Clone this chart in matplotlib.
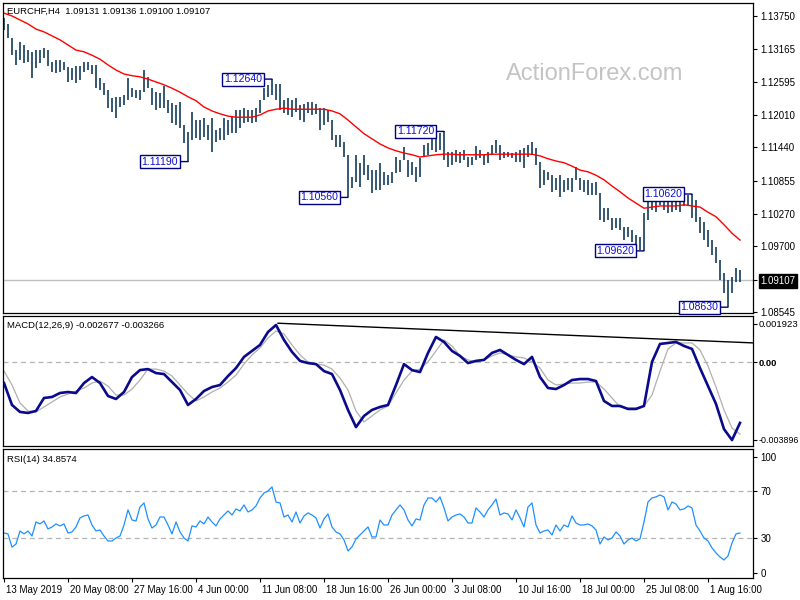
import numpy as np
import matplotlib
matplotlib.use("Agg")
import matplotlib.pyplot as plt
from matplotlib import transforms

plt.rcParams['font.family'] = ['Liberation Sans', 'DejaVu Sans']

# ---------------- data ----------------
# one entry per two H4 bars (EURCHF H4, 13 May 2019 -> 5 Aug 2019)
high = [1.1371, 1.1361, 1.1336, 1.1315, 1.1329, 1.1324, 1.1315, 1.1312, 1.1315, 1.1315,
        1.1319, 1.1315, 1.1294, 1.1298, 1.1298, 1.1294, 1.1285, 1.1284, 1.1287, 1.1287,
        1.1294, 1.1294, 1.1289, 1.1289, 1.1266, 1.1257, 1.1245, 1.1231, 1.1233, 1.1233,
        1.1236, 1.1266, 1.1248, 1.1245, 1.1245, 1.1280, 1.1268, 1.1248, 1.1241, 1.1240,
        1.1252, 1.1227, 1.1222, 1.1219, 1.1224, 1.1183, 1.1171, 1.1206, 1.1192, 1.1192,
        1.1196, 1.1183, 1.1196, 1.1175, 1.1178, 1.1196, 1.1192, 1.1197, 1.1210, 1.1210,
        1.1213, 1.1210, 1.1210, 1.1213, 1.1227, 1.1248, 1.1254, 1.1264, 1.1255, 1.1255,
        1.1227, 1.1231, 1.1227, 1.1231, 1.1219, 1.1220, 1.1224, 1.1224, 1.1220, 1.1213,
        1.1213, 1.1210, 1.1192, 1.1166, 1.1166, 1.1153, 1.1131, 1.1092, 1.1131, 1.1117,
        1.1131, 1.1113, 1.1104, 1.1104, 1.1117, 1.1101, 1.1095, 1.1101, 1.1127, 1.1122,
        1.1145, 1.1122, 1.1118, 1.1109, 1.1125, 1.1148, 1.1152, 1.1161, 1.1166, 1.1169,
        1.1172, 1.1136, 1.1136, 1.1139, 1.1136, 1.1139, 1.1127, 1.1127, 1.1146, 1.1139,
        1.1131, 1.1136, 1.1148, 1.1157, 1.1148, 1.1136, 1.1136, 1.1134, 1.1136, 1.1139,
        1.1143, 1.1148, 1.1153, 1.1143, 1.1118, 1.1104, 1.1101, 1.1095, 1.1090, 1.1095,
        1.1087, 1.1090, 1.1090, 1.1109, 1.1090, 1.1087, 1.1087, 1.1081, 1.1083, 1.1064,
        1.1037, 1.1037, 1.1020, 1.1020, 1.1020, 1.1004, 1.1004, 1.0999, 1.0990, 1.0986,
        1.1029, 1.1057, 1.1060, 1.1059, 1.1060, 1.1057, 1.1060, 1.1057, 1.1059, 1.1057,
        1.1060, 1.1060, 1.1062, 1.1052, 1.1022, 1.1013, 1.0999, 1.0981, 1.0969, 1.0946,
        1.0923, 1.0911, 1.0916, 1.0932, 1.0928]
low = [1.1350, 1.1336, 1.1306, 1.1289, 1.1298, 1.1292, 1.1294, 1.1266, 1.1284, 1.1292,
       1.1301, 1.1287, 1.1277, 1.1275, 1.1277, 1.1280, 1.1259, 1.1262, 1.1257, 1.1262,
       1.1277, 1.1280, 1.1273, 1.1248, 1.1245, 1.1236, 1.1213, 1.1206, 1.1196, 1.1215,
       1.1219, 1.1227, 1.1233, 1.1231, 1.1227, 1.1241, 1.1248, 1.1219, 1.1210, 1.1213,
       1.1213, 1.1204, 1.1187, 1.1183, 1.1178, 1.1152, 1.1119, 1.1157, 1.1161, 1.1157,
       1.1162, 1.1157, 1.1136, 1.1153, 1.1157, 1.1157, 1.1166, 1.1169, 1.1169, 1.1178,
       1.1187, 1.1189, 1.1187, 1.1189, 1.1204, 1.1227, 1.1233, 1.1236, 1.1227, 1.1210,
       1.1204, 1.1201, 1.1197, 1.1206, 1.1192, 1.1189, 1.1204, 1.1201, 1.1203, 1.1175,
       1.1183, 1.1189, 1.1157, 1.1145, 1.1145, 1.1127, 1.1056, 1.1073, 1.1083, 1.1074,
       1.1095, 1.1087, 1.1064, 1.1069, 1.1069, 1.1078, 1.1078, 1.1081, 1.1099, 1.1101,
       1.1122, 1.1092, 1.1095, 1.1083, 1.1092, 1.1127, 1.1131, 1.1139, 1.1136, 1.1139,
       1.1122, 1.1109, 1.1113, 1.1118, 1.1117, 1.1122, 1.1109, 1.1113, 1.1122, 1.1125,
       1.1113, 1.1117, 1.1131, 1.1134, 1.1122, 1.1125, 1.1127, 1.1125, 1.1118, 1.1118,
       1.1108, 1.1127, 1.1131, 1.1113, 1.1073, 1.1078, 1.1087, 1.1066, 1.1069, 1.1057,
       1.1066, 1.1069, 1.1066, 1.1087, 1.1069, 1.1066, 1.1060, 1.1060, 1.1060, 1.1016,
       1.1013, 1.1016, 1.0999, 1.1002, 1.0999, 1.0981, 1.0986, 1.0978, 1.0967, 1.0964,
       1.0962, 1.1016, 1.1034, 1.1030, 1.1043, 1.1034, 1.1029, 1.1030, 1.1034, 1.1030,
       1.1041, 1.1043, 1.1020, 1.1013, 1.0993, 1.0981, 1.0969, 1.0955, 1.0941, 1.0911,
       1.0888, 1.0863, 1.0888, 1.0907, 1.0907]

# moving average, one value per 4 H4 bars
ma = [1.1380, 1.1375, 1.1368, 1.1361, 1.1352, 1.1347, 1.1340, 1.1333, 1.1324, 1.1315,
      1.1312, 1.1306, 1.1299, 1.1289, 1.1280, 1.1273, 1.1270, 1.1268, 1.1264, 1.1259,
      1.1254, 1.1248, 1.1241, 1.1233, 1.1226, 1.1215, 1.1208, 1.1203, 1.1199, 1.1197,
      1.1197, 1.1197, 1.1201, 1.1208, 1.1211, 1.1213, 1.1211, 1.1211, 1.1211, 1.1211,
      1.1211, 1.1208, 1.1203, 1.1192, 1.1180, 1.1168, 1.1159, 1.1150, 1.1143, 1.1138,
      1.1134, 1.1131, 1.1127, 1.1129, 1.1131, 1.1132, 1.1132, 1.1131, 1.1131, 1.1131,
      1.1131, 1.1132, 1.1132, 1.1132, 1.1132, 1.1132, 1.1132, 1.1129, 1.1124, 1.1120,
      1.1117, 1.1111, 1.1104, 1.1101, 1.1095, 1.1087, 1.1076, 1.1066, 1.1055, 1.1046,
      1.1037, 1.1039, 1.1041, 1.1041, 1.1041, 1.1043, 1.1041, 1.1039, 1.1030, 1.1022,
      1.1008, 1.0993, 1.0981]

macd = [-0.00104, -0.00214, -0.00249, -0.00254, -0.00244, -0.00179, -0.00174, -0.00154, -0.00149, -0.00154,
        -0.00104, -0.00074, -0.00104, -0.00169, -0.00184, -0.00149, -0.00074, -0.00039, -0.00034, -0.00054,
        -0.00059, -0.00099, -0.00139, -0.00214, -0.00184, -0.00144, -0.00124, -0.00114, -0.00069, -0.00029,
        0.00027, 0.00057, 0.00087, 0.00152, 0.00187, 0.00112, 0.00052, 0.00007, -0.00004, -0.00009,
        -0.00044, -0.00059, -0.00139, -0.00239, -0.00325, -0.00269, -0.00239, -0.00224, -0.00214, -0.00114,
        -0.00009, -0.00039, -0.00049, 0.00047, 0.00127, 0.00102, 0.00057, 0.00032, -0.00004, 0.00007,
        0.00012, 0.00047, 0.00062, 0.00037, 0.00012, -0.00009, 0.00027, -0.00074, -0.00129, -0.00134,
        -0.00114, -0.00089, -0.00084, -0.00084, -0.00094, -0.00194, -0.00219, -0.00219, -0.00234, -0.00234,
        -0.00219, 0.00002, 0.00092, 0.00097, 0.00102, 0.00082, 0.00067, -0.00029, -0.00119, -0.00209,
        -0.00335, -0.00390, -0.00304]
signal = [-0.00044, -0.00114, -0.00204, -0.00244, -0.00249, -0.00224, -0.00199, -0.00174, -0.00159, -0.00144,
          -0.00129, -0.00104, -0.00094, -0.00119, -0.00164, -0.00164, -0.00134, -0.00089, -0.00034, -0.00034,
          -0.00044, -0.00069, -0.00114, -0.00159, -0.00194, -0.00174, -0.00149, -0.00129, -0.00099, -0.00064,
          -0.00009, 0.00037, 0.00072, 0.00122, 0.00157, 0.00142, 0.00087, 0.00037, 0.00002, -0.00009,
          -0.00014, -0.00034, -0.00079, -0.00139, -0.00244, -0.00299, -0.00269, -0.00239, -0.00219, -0.00154,
          -0.00089, -0.00044, -0.00034, 0.00002, 0.00057, 0.00112, 0.00082, 0.00032, 0.00012, 0.00002,
          0.00012, 0.00032, 0.00047, 0.00037, 0.00027, 0.00022, 0.00002, -0.00029, -0.00089, -0.00114,
          -0.00109, -0.00104, -0.00104, -0.00099, -0.00099, -0.00134, -0.00179, -0.00224, -0.00229, -0.00229,
          -0.00219, -0.00164, -0.00044, 0.00067, 0.00097, 0.00097, 0.00097, 0.00062, -0.00019, -0.00124,
          -0.00239, -0.00330, -0.00360]
macd_trend_x = [68.5, 190]
macd_trend_y = [0.00196, 0.00095]

rsi = [34.2, 33.4, 22.0, 24.7, 35.9, 33.4, 35.9, 31.6, 43.7, 42.0,
       44.6, 37.7, 39.4, 42.0, 40.3, 42.0, 34.2, 35.1, 39.4, 47.2,
       48.9, 49.7, 41.1, 35.9, 36.8, 31.6, 27.3, 27.3, 29.9, 31.6,
       41.1, 54.1, 45.4, 44.6, 56.6, 60.1, 46.3, 38.5, 41.1, 48.0,
       48.0, 41.1, 33.4, 43.7, 35.1, 29.9, 27.3, 40.3, 39.4, 44.6,
       42.0, 48.0, 43.7, 40.3, 46.3, 49.7, 53.2, 49.7, 54.9, 53.2,
       58.4, 52.3, 54.1, 57.5, 64.4, 68.7, 70.4, 73.9, 60.9, 60.1,
       48.0, 49.7, 43.7, 52.3, 42.8, 48.9, 51.5, 49.7, 47.2, 38.5,
       46.3, 50.6, 39.4, 35.1, 33.4, 28.2, 18.7, 22.2, 29.1, 32.5,
       35.9, 39.4, 30.8, 30.8, 45.4, 41.1, 41.1, 49.7, 54.1, 58.4,
       54.1, 45.4, 40.3, 46.3, 45.4, 58.4, 64.4, 64.4, 60.9, 65.3,
       55.8, 44.6, 48.0, 49.7, 50.6, 48.0, 42.8, 42.8, 55.8, 52.3,
       48.0, 54.1, 58.4, 63.5, 49.7, 51.5, 50.6, 45.4, 54.1, 47.2,
       39.4, 56.6, 60.1, 41.1, 34.2, 35.9, 36.8, 32.5, 41.1, 35.9,
       41.1, 39.4, 48.9, 42.8, 41.1, 41.1, 42.0, 40.3, 36.8, 24.7,
       30.8, 28.2, 29.9, 35.1, 31.6, 24.7, 28.2, 29.9, 27.3, 29.1,
       43.7, 60.9, 64.4, 65.3, 67.0, 65.3, 54.1, 60.9, 59.2, 54.1,
       54.9, 57.5, 55.8, 41.1, 35.9, 29.9, 27.3, 21.3, 17.0, 13.5,
       10.9, 14.4, 25.6, 33.4, 34.2]

annot_bars = [67, 46, 86, 110, 160, 172, 181]
annot_vals = [1.1264, 1.1119, 1.1056, 1.1172, 1.0962, 1.1062, 1.0863]
annot_text = ["1.12640", "1.11190", "1.10560", "1.11720", "1.09620", "1.10620", "1.08630"]

last_price = 1.09107
price_ticks = [1.13750, 1.13165, 1.12595, 1.12010, 1.11440, 1.10855, 1.10270, 1.09700, 1.09107, 1.08545]
macd_ticks = [0.001923, 0.0, -0.003896]
macd_tick_labels = ["0.001923", "0.00", "-0.003896"]
rsi_ticks = [100, 70, 30, 0]
rsi_levels = [70, 30]

x_labels = ["13 May 2019", "20 May 08:00", "27 May 16:00", "4 Jun 00:00", "11 Jun 08:00",
            "18 Jun 16:00", "26 Jun 00:00", "3 Jul 08:00", "10 Jul 16:00", "18 Jul 00:00",
            "25 Jul 08:00", "1 Aug 16:00"]
x_label_bars = [0, 16, 32, 48, 64, 80, 96, 112, 128, 144, 160, 176]

header = "EURCHF,H4  1.09131 1.09136 1.09100 1.09107"
macd_title = "MACD(12,26,9) -0.002677 -0.003266"
rsi_title = "RSI(14) 34.8574"

# ---------------- drawing ----------------
W, H = 800, 600
fig = plt.figure(figsize=(8, 6), dpi=100)
fig.patch.set_facecolor('white')

def px_axes(top, bottom):
    return fig.add_axes([3 / W, 1 - bottom / H, 750 / W, (bottom - top) / H])

ax1 = px_axes(3, 313)
ax2 = px_axes(316, 446)
ax3 = px_axes(449, 578)

FS = 7
xmin, xmax = -0.25, 187.25
for ax in (ax1, ax2, ax3):
    ax.set_xlim(xmin, xmax)
    for s in ax.spines.values():
        s.set_color('black')
        s.set_linewidth(0.9)
    ax.yaxis.tick_right()
    ax.tick_params(axis='y', which='both', direction='out', length=3, width=0.8,
                   pad=2.2, labelsize=FS, right=True, left=False,
                   labelright=True, labelleft=False)
    ax.tick_params(axis='x', bottom=False, labelbottom=False)

bars_x = np.arange(len(high))
half_x = np.arange(len(ma)) * 2

# main price panel
ax1.set_ylim(1.08528, 1.13978)
ax1.axhline(last_price, color='#c0c0c0', lw=1)
ax1.vlines(bars_x, low, high, color='#143c5a', lw=1.2)
ax1.plot(half_x, ma, color='#ff0000', lw=1)
ax1.set_yticks(price_ticks)
ax1.set_yticklabels([f"{v:.5f}" for v in price_ticks])
for lab, v in zip(ax1.get_yticklabels(), price_ticks):
    if abs(v - last_price) < 1e-9:
        lab.set_color('white')
        lab.set_bbox(dict(facecolor='black', edgecolor='black', pad=1.2))

for b, v, t in zip(annot_bars, annot_vals, annot_text):
    ax1.annotate(t, xy=(b, v), xytext=(-10, 0), textcoords='offset pixels',
                 ha='right', va='center', fontsize=7.6, color='#1010d0',
                 bbox=dict(boxstyle='square,pad=0.15', fc='white', ec='#000080', lw=1),
                 arrowprops=dict(arrowstyle='-', color='#000080', lw=1,
                                 shrinkA=0, shrinkB=0))

# MACD panel
ax2.set_ylim(-0.004198, 0.002322)
ax2.axhline(0, color='#b4b4b4', lw=0.9, ls=(0, (4, 3)))
ax2.plot(half_x, signal, color='#b0b0b0', lw=0.9)
ax2.plot(half_x, macd, color='#0a0a8c', lw=1.9)
ax2.plot(macd_trend_x, macd_trend_y, color='black', lw=1)
ax2.set_yticks(macd_ticks)
ax2.set_yticklabels(macd_tick_labels)
ax2.tick_params(axis='y', pad=1.2)
for lab in ax2.get_yticklabels():
    lab.set_fontsize(6.8)
ax2.get_yticklabels()[1].set_fontweight('bold')
ax2.get_yticklabels()[2].set_fontsize(6.4)

# RSI panel
ax3.set_ylim(-4.6, 106.6)
for lv in rsi_levels:
    ax3.axhline(lv, color='#b4b4b4', lw=0.9, ls=(0, (4, 3)))
ax3.plot(bars_x, rsi, color='#1e90ff', lw=0.9)
ax3.set_yticks(rsi_ticks)
ax3.set_yticklabels([str(v) for v in rsi_ticks])

ax3.tick_params(axis='x', bottom=True, labelbottom=True, direction='out',
                length=3, width=0.8, pad=2, labelsize=FS)
ax3.set_xticks(x_label_bars)
ax3.set_xticklabels(x_labels)
shift = transforms.ScaledTranslation(1.5 / 100, 0, fig.dpi_scale_trans)
for lab in ax3.get_xticklabels():
    lab.set_horizontalalignment('left')
    lab.set_transform(lab.get_transform() + shift)

# panel captions and watermark
fig.text(7 / W, 1 - 11 / H, header, fontsize=6.8, va='center', ha='left', color='black')
fig.text(7 / W, 1 - 326 / H, macd_title, fontsize=6.8, va='center', ha='left', color='black')
fig.text(7 / W, 1 - 459 / H, rsi_title, fontsize=6.8, va='center', ha='left', color='black')
fig.text(595 / W, 1 - 74 / H, "ActionForex.com", fontsize=17, color='#c4c4c4',
         ha='center', va='center')

fig.savefig('out.png', dpi=100)
